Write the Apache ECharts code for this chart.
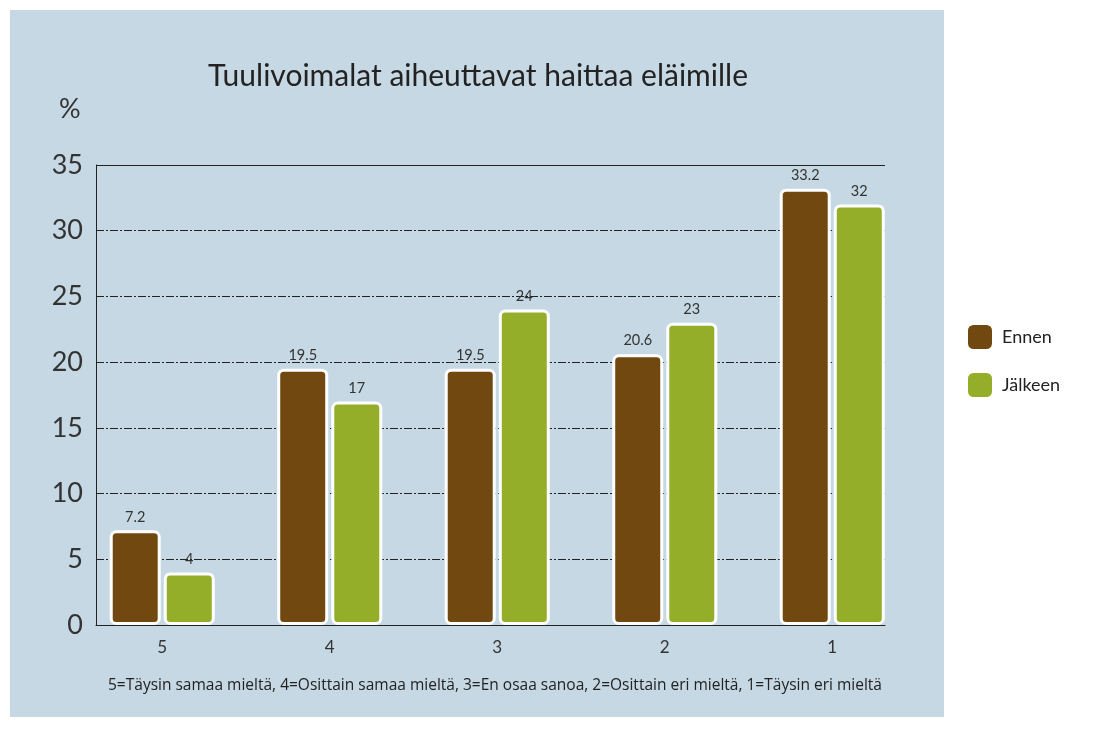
<!DOCTYPE html>
<html>
<head>
<meta charset="utf-8">
<script src="https://cdn.jsdelivr.net/npm/echarts@6/dist/echarts.min.js"></script>
<style>
  html, body { margin: 0; padding: 0; background: #fff; }
  #chart { width: 1097px; height: 732px; }
</style>
</head>
<body>
<div id="chart"></div>
<script>
const categories = ['5', '4', '3', '2', '1']
const ennen = [7.2, 19.5, 19.5, 20.6, 33.2]
const jalkeen = [4, 17, 24, 23, 32]
const seriesNames = ['Ennen', 'Jälkeen']
const titleText = 'Tuulivoimalat aiheuttavat haittaa eläimille'
const footnote = '5=Täysin samaa mieltä, 4=Osittain samaa mieltä, 3=En osaa sanoa, 2=Osittain eri mieltä, 1=Täysin eri mieltä'

const brown = '#724811'
const green = '#94ae2a'
const font = 'Lato, "Open Sans", sans-serif'

const chart = echarts.init(document.getElementById('chart'))

const barSeries = (name, data, color) => ({
  name,
  type: 'bar',
  xAxisIndex: 1,
  yAxisIndex: 1,
  data,
  barWidth: 51,
  barGap: '6%',
  itemStyle: {
    color,
    borderColor: '#fff',
    borderWidth: 3,
    borderRadius: 5
  },
  label: {
    show: true,
    position: 'top',
    distance: 6,
    color: '#333',
    fontSize: 14.5,
    fontFamily: font
  }
})

const option = {
  backgroundColor: '#fff',
  graphic: [
    {
      type: 'rect',
      z: -10,
      shape: { x: 10, y: 10, width: 934, height: 707 },
      style: { fill: '#c6d8e3' }
    },
    {
      type: 'text',
      left: 59,
      top: 96,
      style: { text: '%', fontSize: 27, fill: '#333', fontFamily: font }
    },
    {
      type: 'text',
      left: 108,
      top: 678,
      style: { text: footnote, fontSize: 15.5, fill: '#222', fontFamily: '"Open Sans", sans-serif' }
    }
  ],
  title: {
    text: titleText,
    left: 473,
    textAlign: 'center',
    top: 56,
    textStyle: { fontSize: 30, fontWeight: 'normal', color: '#222', fontFamily: font }
  },
  legend: {
    data: seriesNames,
    orient: 'vertical',
    left: 966,
    top: 323,
    padding: 0,
    itemWidth: 26,
    itemHeight: 26,
    itemGap: 20,
    icon: 'roundRect',
    textStyle: { fontSize: 18, color: '#222', fontFamily: font, padding: [0, 0, 0, 4] }
  },
  grid: [
    { left: 96, top: 165, width: 789, height: 460 },
    { left: 78.5, top: 165, width: 837.5, height: 460 }
  ],
  xAxis: [
    {
      gridIndex: 0,
      type: 'value',
      min: 0,
      max: 1,
      axisLine: { show: true, onZero: false, lineStyle: { color: '#222', width: 1 } },
      axisTick: { show: false },
      axisLabel: { show: false },
      splitLine: { show: false }
    },
    {
      gridIndex: 1,
      type: 'category',
      data: categories,
      axisLine: { show: false },
      axisTick: { show: false },
      axisLabel: { margin: 14, fontSize: 17, color: '#333', fontFamily: font }
    }
  ],
  yAxis: [
    {
      gridIndex: 0,
      type: 'value',
      min: 0,
      max: 35,
      interval: 5,
      axisLine: { show: true, lineStyle: { color: '#222', width: 1 } },
      axisTick: { show: false },
      axisLabel: { margin: 13, fontSize: 27, color: '#333', fontFamily: font },
      splitLine: {
        show: true,
        lineStyle: { color: '#222', width: 1, type: [8, 2, 2, 2] }
      }
    },
    {
      gridIndex: 1,
      type: 'value',
      min: 0,
      max: 35,
      interval: 5,
      show: false
    }
  ],
  series: [
    barSeries(seriesNames[0], ennen, brown),
    barSeries(seriesNames[1], jalkeen, green),
    {
      // solid top border line at 35
      type: 'line',
      xAxisIndex: 0,
      yAxisIndex: 0,
      data: [],
      markLine: {
        silent: true,
        symbol: 'none',
        label: { show: false },
        lineStyle: { color: '#222', width: 1, type: 'solid' },
        data: [{ yAxis: 35 }]
      }
    }
  ]
}

chart.setOption(option)
</script>
</body>
</html>
